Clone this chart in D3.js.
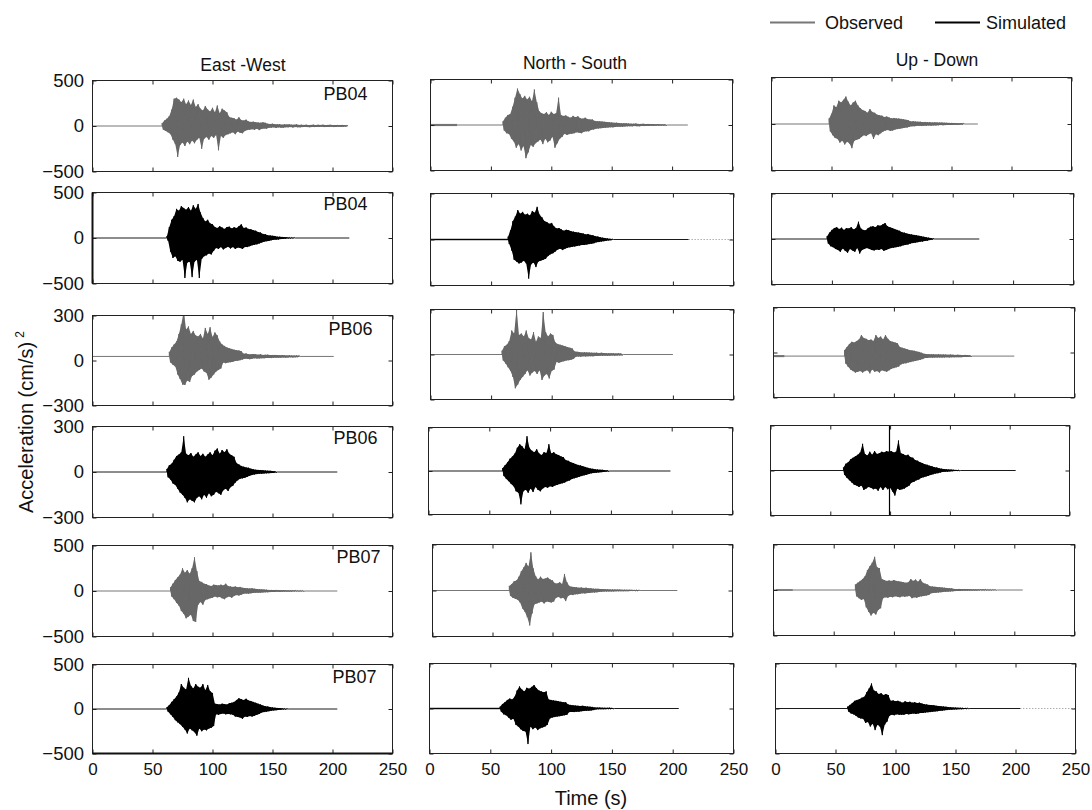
<!DOCTYPE html>
<html>
<head>
<meta charset="utf-8">
<script src="https://cdn.jsdelivr.net/npm/d3@7"></script>
<style>
  body { margin: 0; background: #fff; }
  svg { display: block; font-family: "Liberation Sans", Arial, Helvetica, sans-serif; }
</style>
</head>
<body>
<div id="chart"></div>
<script>
// column titles, stations and what each row shows
var components = ["East -West", "North - South", "Up - Down"];
var stations = ["PB04", "PB04", "PB06", "PB06", "PB07", "PB07"];
var rowKinds = ["Observed", "Simulated", "Observed", "Simulated", "Observed", "Simulated"];
var yLimits = [500, 500, 300, 300, 500, 500];
var xTicks = [0, 50, 100, 150, 200, 250];
var timeMax = 250;

// accelerograms, one sample per second from the onset (cm/s^2)
var ewObsPB04 = [30,-40,60,-55,80,-70,110,-90,180,-150,300,-200,310,-340,290,-210,260,-180,300,-220,240,-170,280,-200,230,-160,290,-190,
  210,-150,240,-130,190,-250,170,-140,220,-120,180,-150,160,-110,200,-130,150,-100,225,-267,140,-110,190,-130,170,-100,150,
  -90,100,-80,90,-70,85,-90,70,-60,95,-75,65,-80,60,-55,70,-45,50,-40,45,-35,48,-42,40,-30,38,-45,35,-32,40,-28,35,-30,
  25,-20,22,-18,25,-15,20,-22,18,-15,20,-18,15,-20,18,-14,16,-15,18,-12,15,-16,14,-12,18,-14,12,-15,14,-12,
  12,-10,14,-12,10,-13,12,-10,15,-12,10,-11,13,-10,12,-9,14,-12,10,-11,12,-10,13,-9,11,-12,10,-10,12,-9,11,-10,12,-8,10,-9,8];
var nsObsPB04 = [40,-60,80,-90,110,-100,120,-150,200,-180,300,-250,400,-210,340,-280,290,-230,320,-365,280,-300,310,-220,260,-240,390,-200,250,
  -180,150,-160,130,-210,120,-150,140,-190,110,-170,145,-130,120,-250,130,-200,300,-150,110,-130,100,
  -95,105,-110,90,-100,80,-95,100,-90,85,-80,95,-85,75,-90,70,-75,80,-70,65,-70,60,-55,60,-50,
  45,-40,42,-38,40,-35,38,-32,35,-30,32,-28,30,-25,28,-26,24,-22,25,-20,22,-20,18,-20,18,
  -16,18,-15,16,-14,15,-15,14,-12,16,-13,12,-14,12,-10,13,-12,11,-10,12,-10,11,-9,10,-10,9,-8,10,-9,8,-8,9,-7,8,-7];
var udObsPB04 = [60,-80,110,-120,200,-150,180,-160,250,-200,230,-180,260,-220,295,-190,240,-210,200,-260,230,-180,250,-170,200,-160,
  170,-140,150,-120,140,-130,120,-110,160,-100,130,-160,120,-110,100,-120,95,-100,90,
  -80,75,-70,80,-65,70,-75,60,-70,65,-60,60,-55,58,-50,55,-45,50,-40,45,-38,40,
  -30,28,-25,30,-24,26,-22,25,-20,24,-22,20,-18,22,-20,18,-16,20,-18,16,-15,18,-15,16,-14,15,-12,16,-13,14,-12,13,-10,12,-11,12,-10,11,-9,10,-10,9,-8,10,-8,8];
var ewSimPB04 = [20,-30,120,-150,200,-220,240,-200,320,-250,300,-260,350,-240,330,-440,310,-270,340,-260,300,-430,360,-260,320,-240,374,-440,280,
  -230,220,-200,180,-190,200,-170,160,-180,150,-140,
  120,-110,110,-120,130,-100,115,-125,100,-110,120,-95,125,-115,105,-100,118,-120,110,-105,130,-110,150,-120,110,-100,115,
  -100,100,-90,95,-80,85,-75,80,-70,65,-60,60,-50,45,-40,42,-35,30,-32,28,-25,24,-20,22,-18,15,-16,14,-12,12,-10,10,-8,8,-6,6,-5,5,-4,4];
var nsSimPB04 = [30,-50,100,-120,200,-220,250,-240,320,-260,280,-250,300,-230,270,-260,280,-425,260,-270,310,-250,290,-300,355,-240,270,-230,240,
  -220,200,-210,190,-180,170,-160,180,-150,140,
  -130,120,-110,125,-100,110,-115,95,-100,105,-90,100,-85,90,-80,85,-75,80,-70,75,-65,70,-60,65,-60,55,-55,60,-50,50,-45,45,-40,
  35,-30,32,-28,25,-22,20,-18,15,-14,12,-10,8,-8,6];
var udSimPB04 = [30,-50,70,-80,100,-90,120,-110,130,-120,110,-140,125,-105,100,-130,120,-150,115,-110,130,-125,105,-140,120,-100,190,-160,115,-120,100,-110,95,
  -100,120,-110,135,-120,140,-125,130,-115,150,-120,145,-110,160,-130,175,-120,140,-110,130,-100,120,-95,110,-90,100,-85,90,
  -80,75,-70,70,-65,60,-60,55,-50,50,-45,45,-40,40,-35,35,-30,30,-28,25,-22,20,-18,15,-12,10,-8,6];
var ewObsPB06 = [30,-40,60,-55,80,-67,100,-120,150,-150,213,-187,300,-190,180,-160,200,-170,150,-130,170,-120,140,-100,133,-90,150,
  -80,120,-100,190,-110,150,-155,195,-140,130,-120,160,-100,140,-90,100,-80,
  80,-40,70,-45,60,-40,55,-38,50,-35,45,-30,42,-28,40,-25,35,
  -20,18,-15,20,-16,15,-18,14,-15,16,-12,15,-14,12,-13,14,-12,10,-12,11,-10,12,-10,9,-11,10,-9,10,-8,9,-9,8,-8,9,-7,8,-8,7,-7,8,-6,7,-7,6,-6,7,-5,6];
var nsObsPB06 = [25,-40,55,-60,65,-85,90,-110,160,-150,140,-225,300,-200,130,-170,
  140,-150,120,-130,160,-105,110,-140,100,-120,150,-110,85,-130,120,-105,110,
  -170,283,-140,150,-130,120,-160,140,-110,130,-100,
  80,-50,70,-55,65,-50,60,-45,55,-40,50,-38,45,-35,40,-30,
  20,-15,18,-14,16,-15,14,-12,15,-13,14,-12,13,-11,12,-12,11,-10,12,-10,10,-9,11,-9,10,-8,9,-9,8,-8,9,-7,8,-8,7,-7,8,-6,7,-6];
var udObsPB06 = [40,-50,60,-71,80,-90,95,-100,90,-110,100,-105,110,-100,
  140,-110,120,-100,115,-95,105,-115,110,-90,100,-105,140,-100,120,-110,130,-95,110,-100,140,-105,115,-95,
  100,-85,95,-80,90,-75,85,-70,
  60,-55,55,-50,50,-48,45,-42,40,-40,38,-35,35,-32,30,-28,28,-25,22,-20,
  15,-12,14,-12,13,-10,12,-11,12,-10,11,-10,12,-9,10,-10,11,-9,10,-8,9,-9,10,-8,9,-8,8,-7,9,-7,8,-7,7,-6,8,-6,7,-6,6,-5];
var ewSimPB06 = [20,-35,45,-50,55,-75,80,-85,105,-110,115,-135,
  130,-150,236,-170,120,-200,110,-180,125,-190,100,-200,115,-170,130,-160,105,-180,120,-150,100,-170,115,-140,130,-160,110,-150,
  140,-130,155,-140,120,-150,145,-120,130,-110,150,-125,120,-100,110,-90,100,
  -70,60,-55,50,-45,40,-42,35,-38,30,-32,28,-25,22,-20,18,-16,
  15,-14,14,-12,13,-12,12,-10,10,-9,9,-8,8,-7,6,-6,5,-4];
var nsSimPB06 = [20,-35,40,-55,60,-70,85,-90,100,-105,120,
  -140,160,-150,185,-230,170,-140,150,-130,240,-150,160,-120,140,-145,130,-110,150,-130,120,-140,110,
  -120,130,-110,125,-115,185,-105,120,-110,130,-100,115,-95,110,-90,100,-85,95,-80,
  75,-70,70,-65,60,-55,55,-50,48,-45,42,-40,38,-35,32,-30,28,-25,22,
  -20,18,-16,15,-14,12,-12,10,-10,9,-8,8,-7,6,-5,5,-4];
var udSimPB06 = [20,-30,45,-50,55,-65,75,-80,85,-95,95,-100,105,
  -110,120,-100,178,-130,110,-120,100,-110,125,-115,105,-125,130,-120,110,-135,115,-110,125,-130,120,-110,130,-125,125,-115,
  130,-140,120,-167,125,-120,200,-130,115,-125,110,-120,100,-110,105,-100,
  90,-80,85,-75,70,-65,65,-60,55,-50,50,-45,42,-40,38,-35,32,-30,28,-25,22,-20,20,-18,15,-14,12,-10,
  10,-9,8,-8,7,-6,6,-5,5,-4,4,-3,3,-2];
var ewObsPB07 = [40,-60,80,-90,120,-130,150,-160,180,
  -220,250,-250,200,-300,230,-280,190,-260,250,-330,370,-340,220,
  -150,110,-120,100,-150,80,-100,75,-90,60,-80,55,-75,70,
  -60,65,-70,60,-65,70,-80,60,-90,80,-70,55,-60,50,-75,45,-55,50,-45,40,-50,45,-40,
  35,-30,32,-28,30,-30,28,-25,30,-22,25,-20,22,-20,20,-18,18,-16,16,-15,15,-14,
  12,-12,12,-10,11,-10,12,-9,10,-10,9,-8,10,-8,9,-7,8,-8,7,-7,8,-6,7,-6,6,-6,5,-5,6,-5];
var nsObsPB07 = [50,-60,70,-80,100,-90,110,-100,150,-130,
  210,-195,250,-230,300,-290,260,-380,415,-250,240,
  -150,155,-140,120,-130,150,-120,125,-140,130,-120,140,-125,120,-130,110,-120,
  80,-80,75,-70,90,-85,70,-80,180,-115,90,
  -60,50,-45,40,-50,38,-42,35,-40,30,-35,32,-30,28,-32,30,-28,25,-26,24,-22,20,-22,18,-20,18,-16,15,
  -14,15,-12,14,-12,13,-11,12,-10,12,-10,11,-9,10,-9,10,-8,9,-8,9,-7,8,-7,8,-6,7,-6,6,-5,6,-5,5];
var udObsPB07 = [60,-70,80,-90,100,-110,120,-100,150,
  -190,218,-240,260,-280,300,-250,365,-270,250,-220,240,-200,
  120,-90,110,-80,100,-85,105,-75,100,-80,110,-70,100,-75,95,-80,90,-70,85,-75,80,-70,85,-65,
  120,-90,100,-80,115,-85,90,-75,120,-70,80,-65,70,-60,60,-55,
  40,-35,38,-32,35,-30,32,-28,30,-25,28,-22,25,-20,22,-18,20,-16,18,-15,
  12,-12,11,-10,12,-10,10,-9,11,-9,10,-8,10,-8,9,-7,9,-7,8,-7,8,-6,8,-6,7,-6,7,-5,6,-5,6,-5,5,-4,5,-4];
var ewSimPB07 = [20,-30,45,-60,80,-90,110,-125,140,-150,185,-170,
  280,-200,240,-230,220,-275,350,-220,260,-240,230,-260,280,-300,250,-220,240,-250,280,-230,210,-240,270,-220,200,-210,180,-190,
  60,-60,55,-65,50,-55,60,-50,55,-60,50,-55,65,-60,70,-65,80,
  -85,100,-90,120,-95,110,-110,100,-85,115,-90,95,-80,90,-85,80,-75,70,-65,60,-55,50,
  -40,38,-35,32,-30,28,-25,22,-20,18,-16,15,-14,12,-10,10,-9,8,-7,6,-5,4];
var nsSimPB07 = [20,-35,50,-65,70,-75,95,-100,110,-125,100,-115,130,
  -180,200,-200,245,-230,210,-250,190,-255,230,-395,220,-200,240,-230,260,-210,225,-240,200,-220,190,-210,180,-200,190,-180,
  100,-110,95,-100,90,-95,85,-90,80,-85,75,-80,70,-75,70,-70,
  45,-40,40,-38,35,-40,32,-35,30,-35,28,-30,30,-28,25,-26,22,-24,20,-22,18,-18,
  12,-10,10,-9,10,-8,9,-8,8,-7,7,-6,7,-6,6,-5];
var udSimPB07 = [20,-35,40,-55,60,-65,85,-80,95,-100,105,-110,120,-115,130,
  -160,180,-150,222,-200,278,-170,200,-240,190,-180,160,-200,170,-296,150,-180,160,-145,150,
  -80,85,-70,90,-75,80,-65,85,-70,75,-70,65,-70,80,-60,70,-65,75,-60,65,-55,70,-60,60,-55,65,-50,55,
  -50,48,-45,45,-42,40,-40,38,-35,35,-32,30,-30,28,-26,25,-24,22,-20,20,-18,16,-15,14,-13,12,-11,10,-10,9,-8,8,-7,6,-6,5,-5,4,-3];

// panels in row order (left to right): onset time, end of record, zero offset of the trace
var traces = [ewObsPB04, nsObsPB04, udObsPB04, ewSimPB04, nsSimPB04, udSimPB04,
  ewObsPB06, nsObsPB06, udObsPB06, ewSimPB06, nsSimPB06, udSimPB06,
  ewObsPB07, nsObsPB07, udObsPB07, ewSimPB07, nsSimPB07, udSimPB07];
var onsets = [58, 60, 48, 62, 64, 46, 64, 59, 59, 62, 61, 61, 65, 64, 68, 62, 58, 60];
var recordEnds = [212, 213, 172, 214, 213, 172, 201, 200, 200, 204, 199, 205, 204, 204, 207, 204, 205, 204];
var zeroOffsets = [0, 0, 0, 0, 0, 0, 27, 0, -24, 0, 0, 0, 0, 0, 0, 0, 0, 0];
// low pre-event noise: [panel, from, to, amplitude]
var preEventNoise = [[1, 0, 22, 12], [4, 0, 64, 8], [8, 0, 9, 7], [14, 2, 16, 9], [16, 0, 58, 8]];
// padded (dotted) end of two simulated records: [panel, from time]
var paddedTails = [[4, 213], [17, 204]];
// one full-scale glitch in the simulated PB06 vertical record: [panel, time]
var glitches = [[11, 99.5]];

// layout of the scanned figure, panels are not perfectly aligned
var w = 1092, h = 810;
var panelBoxes = [
  [[92, 80, 392, 171], [430, 79, 732, 170], [771, 77, 1071, 170]],
  [[92, 192, 392, 283], [430, 193, 733, 285], [771, 193, 1073, 284]],
  [[92, 315, 392, 405], [430, 309, 733, 399], [773, 307, 1074, 397]],
  [[92, 426, 392, 517], [428, 427, 732, 514], [770, 425, 1069, 515]],
  [[92, 545, 392, 636], [432, 544, 732, 636], [773, 544, 1074, 635]],
  [[92, 664, 392, 753], [429, 663, 733, 753], [775, 663, 1075, 753]]
];
var stationPos = [[323, 99], [323, 209], [328, 334], [333, 443], [336, 562], [332, 682]];
var titlePos = [[243, 71], [575, 69], [937, 66]];
var obsColor = "#686868", simColor = "#000";
var fontFamily = '"Liberation Sans", Arial, Helvetica, sans-serif';

var svg = d3.select("#chart").append("svg")
  .attr("width", w)
  .attr("height", h);

var root = svg.append("g").attr("transform", "translate(0.5,0.5)");

panelBoxes.forEach(function(rowBoxes, r) {
  rowBoxes.forEach(function(b, c) {
    var k = r * 3 + c;
    var x = d3.scaleLinear().domain([0, timeMax]).range([b[0], b[2]]);
    var y = d3.scaleLinear().domain([-yLimits[r], yLimits[r]]).range([b[3], b[1]]);
    var color = rowKinds[r] == "Observed" ? obsColor : simColor;

    // clip the trace to the panel
    root.append("clipPath").attr("id", "clip" + k)
      .append("rect")
      .attr("x", b[0]).attr("y", b[1])
      .attr("width", b[2] - b[0]).attr("height", b[3] - b[1]);

    var t0 = onsets[k];
    var samples = traces[k].map(function(v, i) { return [t0 + i, v]; });
    var tEnd = t0 + traces[k].length;

    var line = d3.line()
      .x(function(d) { return x(d[0]); })
      .y(function(d) { return y(d[1] + zeroOffsets[k]); });

    // background noise before the event, drawn as a thin band
    preEventNoise.forEach(function(n) {
      if (n[0] != k) return;
      var band = d3.area()
        .x(function(d) { return x(d); })
        .y0(y(-n[3] + zeroOffsets[k]))
        .y1(y(n[3] + zeroOffsets[k]));
      root.append("path")
        .attr("d", band([n[1], n[2]]))
        .attr("fill", color)
        .attr("opacity", 0.85);
    });

    // solid body between the peaks and the troughs
    var peaks = samples.filter(function(d) { return d[1] > 0; });
    var troughs = samples.filter(function(d) { return d[1] < 0; }).reverse();
    var body = [[t0, 0]].concat(peaks, [[tEnd, 0]], troughs);
    root.append("path")
      .attr("clip-path", "url(#clip" + k + ")")
      .attr("d", line(body) + "Z")
      .attr("fill", color);

    // the record itself: flat before the onset, the waveform, flat to the end
    var pts = [[0, 0], [t0, 0]].concat(samples, [[tEnd, 0], [Math.max(tEnd, recordEnds[k]), 0]]);
    root.append("path")
      .attr("clip-path", "url(#clip" + k + ")")
      .attr("d", line(pts))
      .attr("fill", "none")
      .attr("stroke", color)
      .attr("stroke-width", 0.9)
      .attr("stroke-linejoin", "bevel");

    glitches.forEach(function(g) {
      if (g[0] != k) return;
      root.append("line")
        .attr("x1", x(g[1])).attr("x2", x(g[1]))
        .attr("y1", y(-yLimits[r])).attr("y2", y(yLimits[r]))
        .attr("stroke", color)
        .attr("stroke-width", 1.2);
    });

    paddedTails.forEach(function(p) {
      if (p[0] != k) return;
      root.append("path")
        .attr("d", line([[p[1], 0], [timeMax, 0]]))
        .attr("fill", "none")
        .attr("stroke", "#888")
        .attr("stroke-width", 1)
        .attr("stroke-dasharray", "1,2");
    });

    // ticks inside the box, labels only on the outer panels
    var bottomAxis = d3.axisBottom(x).tickValues(xTicks).tickSizeInner(-4).tickSizeOuter(0).tickPadding(9)
      .tickFormat(r == 5 ? d3.format("d") : "");
    var topAxis = d3.axisTop(x).tickValues(xTicks).tickSizeInner(-4).tickSizeOuter(0).tickFormat("");
    var leftAxis = d3.axisLeft(y).tickValues([-yLimits[r], 0, yLimits[r]]).tickSizeInner(-4).tickSizeOuter(0).tickPadding(8.5)
      .tickFormat(c == 0 ? d3.format("d") : "");
    var rightAxis = d3.axisRight(y).tickValues([-yLimits[r], 0, yLimits[r]]).tickSizeInner(-4).tickSizeOuter(0).tickFormat("");

    var axes = [
      [bottomAxis, "translate(0," + b[3] + ")", 17],
      [topAxis, "translate(0," + b[1] + ")", 17],
      [leftAxis, "translate(" + b[0] + ",0)", 18.5],
      [rightAxis, "translate(" + b[2] + ",0)", 18.5]
    ];
    axes.forEach(function(a) {
      var g = root.append("g")
        .attr("transform", a[1])
        .call(a[0])
        .attr("font-family", fontFamily)
        .attr("font-size", a[2]);
      g.select(".domain").remove();
      g.selectAll(".tick line").attr("stroke", "#222");
      g.selectAll(".tick text").attr("fill", "#111");
    });

    // panel box
    root.append("rect")
      .attr("x", b[0]).attr("y", b[1])
      .attr("width", b[2] - b[0]).attr("height", b[3] - b[1])
      .attr("fill", "none")
      .attr("stroke", "#222")
      .attr("stroke-width", 1);

    // station name
    if (c == 0) {
      root.append("text")
        .attr("x", stationPos[r][0])
        .attr("y", stationPos[r][1])
        .style("font", "18px " + fontFamily)
        .attr("fill", "#111")
        .text(stations[r]);
    }
  });
});

// heavier edges that show in the scan
root.append("line").attr("x1", 92).attr("x2", 92).attr("y1", 192).attr("y2", 283)
  .attr("stroke", "#111").attr("stroke-width", 2);
root.append("line").attr("x1", 92).attr("x2", 392).attr("y1", 753).attr("y2", 753)
  .attr("stroke", "#111").attr("stroke-width", 2);

// column titles
components.forEach(function(name, c) {
  svg.append("text")
    .attr("x", titlePos[c][0])
    .attr("y", titlePos[c][1])
    .attr("text-anchor", "middle")
    .style("font", "17.5px " + fontFamily)
    .attr("fill", "#111")
    .text(name);
});

// x axis title
svg.append("text")
  .attr("x", 591)
  .attr("y", 805)
  .attr("text-anchor", "middle")
  .style("font", "20px " + fontFamily)
  .attr("fill", "#111")
  .text("Time (s)");

// y axis title with squared unit
var ylab = svg.append("text")
  .attr("transform", "translate(33,513) rotate(-90)")
  .style("font", "20px " + fontFamily)
  .attr("fill", "#111")
  .text("Acceleration (cm/s)");
ylab.append("tspan")
  .attr("dx", 4)
  .attr("dy", -9)
  .style("font-size", "12px")
  .text("2");

// legend
var legendItems = [["Observed", "#777", 770, 825], ["Simulated", "#000", 935, 986]];
var legend = svg.selectAll(".legend")
  .data(legendItems)
  .enter().append("g")
  .attr("class", "legend");

legend.append("line")
  .attr("x1", function(d) { return d[2]; })
  .attr("x2", function(d) { return d[2] + 45; })
  .attr("y1", 22.5)
  .attr("y2", 22.5)
  .attr("stroke", function(d) { return d[1]; })
  .attr("stroke-width", 2);

legend.append("text")
  .attr("x", function(d) { return d[3]; })
  .attr("y", 29)
  .style("font", "18px " + fontFamily)
  .attr("fill", "#111")
  .text(function(d) { return d[0]; });
</script>
</body>
</html>
